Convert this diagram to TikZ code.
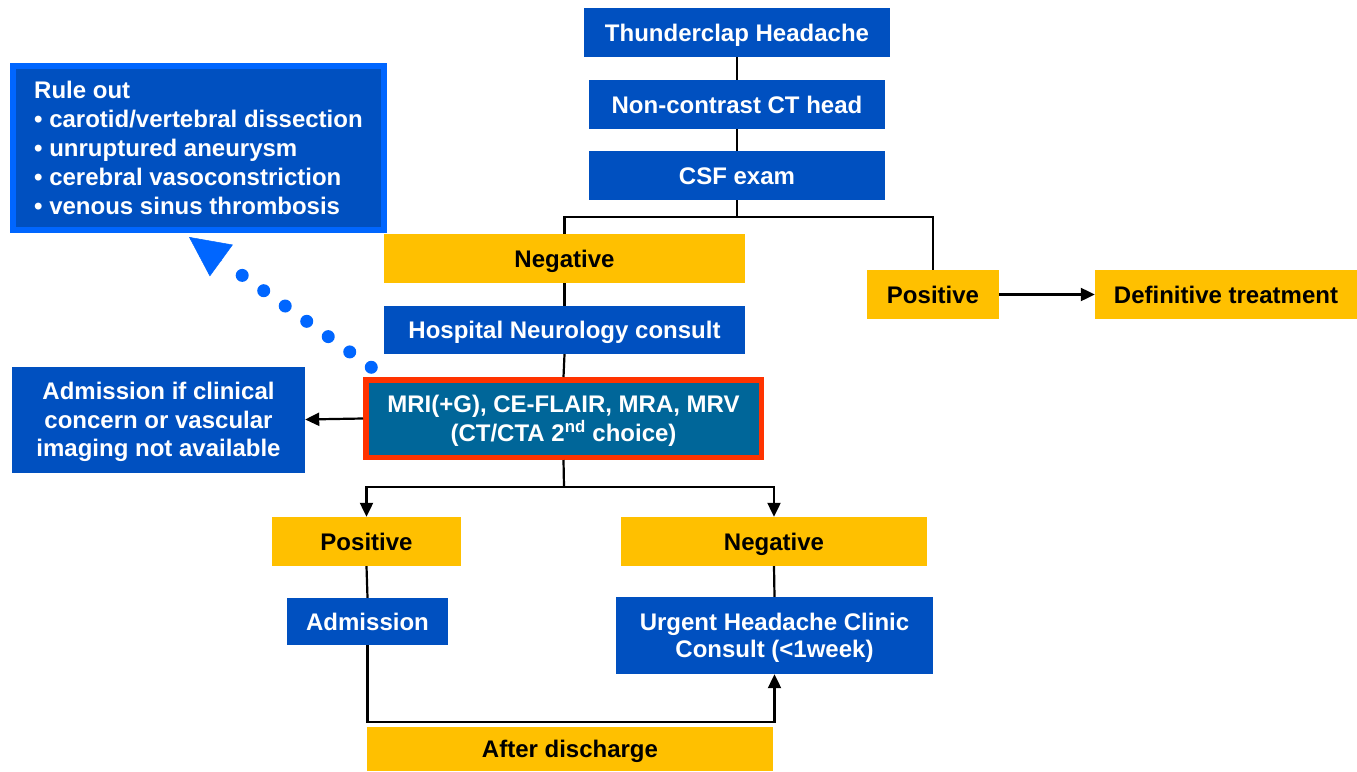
\documentclass[tikz,border=0pt]{standalone}
\usepackage{fontspec}
\setmainfont{Liberation Sans}
\usetikzlibrary{arrows.meta,calc}
\definecolor{boxblue}{RGB}{0,80,192}
\definecolor{boxyellow}{RGB}{255,192,0}
\definecolor{boxteal}{RGB}{0,102,153}
\definecolor{boxred}{RGB}{255,51,0}
\definecolor{lightblue}{RGB}{0,102,255}
\begin{document}
\begin{tikzpicture}[x=1pt,y=-1pt,
  base/.style={rectangle, inner sep=0pt, align=center,
    font=\fontsize{24}{29}\selectfont\bfseries, text height=17.2pt, text depth=0pt},
  bluebox/.style={base, fill=boxblue, text=white},
  yellowbox/.style={base, fill=boxyellow, text=black},
  conn/.style={draw=black, line width=2.2pt},
  arr/.style={conn, -{Triangle[length=14pt,width=13pt]}}
]
\useasboundingbox (0,0) rectangle (1357,771);

\node[bluebox, minimum width=306pt, minimum height=49pt] (th) at (737,32.5) {Thunderclap Headache};
\node[bluebox, minimum width=296pt, minimum height=49pt] (ct) at (737,104.5) {Non-contrast CT head};
\node[bluebox, minimum width=296pt, minimum height=49pt] (csf) at (737,175.5) {CSF exam};
\node[yellowbox, minimum width=361pt, minimum height=49pt] (neg1) at (564.5,258.5) {Negative};
\node[bluebox, minimum width=361pt, minimum height=48pt] (hosp) at (564.5,330) {Hospital Neurology consult};
\node[yellowbox, minimum width=132pt, minimum height=49pt] (pos1) at (933,294.5) {Positive};
\node[yellowbox, minimum width=262pt, minimum height=49pt] (deft) at (1226,294.5) {Definitive treatment};
\node[base, fill=boxteal, text=white, draw=boxred, line width=5.5pt, text height=46.2pt,
      minimum width=395.5pt, minimum height=77.5pt] (mri) at (563.5,418.5)
      {MRI(+G), CE-FLAIR, MRA, MRV\\(CT/CTA 2\textsuperscript{nd} choice)};
\node[bluebox, minimum width=293pt, minimum height=106pt, text height=74.2pt,
      font=\fontsize{24}{28.5}\selectfont\bfseries] (adm1) at (158.5,419.5)
      {Admission if clinical\\concern or vascular\\imaging not available};
\node[base, fill=boxblue, text=white, draw=lightblue, line width=6pt, align=left,
      text height=133.2pt, minimum width=371pt, minimum height=164pt] (rule) at (198.5,148)
      {Rule out\\\textbullet\ carotid/vertebral dissection\\\textbullet\ unruptured aneurysm\\\textbullet\ cerebral vasoconstriction\\\textbullet\ venous sinus thrombosis};
\node[yellowbox, minimum width=189pt, minimum height=49pt] (pos2) at (366.5,541.5) {Positive};
\node[yellowbox, minimum width=306pt, minimum height=49pt] (neg2) at (774,541.5) {Negative};
\node[bluebox, minimum width=161pt, minimum height=47pt] (admb) at (367.5,621.5) {Admission};
\node[bluebox, minimum width=317pt, minimum height=77pt, text height=44.2pt,
      font=\fontsize{24}{27}\selectfont\bfseries] (urg) at (774.5,635.5)
      {Urgent Headache Clinic\\Consult (<1week)};
\node[yellowbox, minimum width=406pt, minimum height=44pt] (after) at (570,749) {After discharge};

\coordinate (split1) at (737,217);
\coordinate (split2) at (564,487);
\coordinate (bottomy) at (0,722);
\coordinate (dstart) at ($(mri.north west)+(8.25,-9.75)$);
\coordinate (dlast) at (222,261);
\coordinate (dtip) at (189,237);

\draw[conn] (th.south) -- (ct.north);
\draw[conn] (ct.south) -- (csf.north);
\draw[conn] (csf.south) -- (split1);
\draw[conn] (split1) -| (neg1.north);
\draw[conn] (split1) -| (pos1.north);
\draw[conn] (neg1.south) -- (hosp.north);
\draw[conn] (hosp.south) -- (mri.north);
\draw[arr] (pos1.east) -- (deft.west);
\draw[arr] (mri.west) -- (adm1.east);
\draw[conn] (mri.south) -- (split2);
\draw[arr] (split2) -| (pos2.north);
\draw[arr] (split2) -| (neg2.north);
\draw[conn] (pos2.south) -- (admb.north);
\draw[conn] (neg2.south) -- (urg.north);
\draw[arr] (admb.south) -- (admb.south |- bottomy) -| (urg.south);

\draw[lightblue, line width=13pt, line cap=round, dash pattern=on 0pt off 26.4pt]
      (dstart) -- (dlast);
\draw[lightblue, line width=0.5pt, -{Triangle[length=40pt,width=39pt]}] (dlast) -- (dtip);
\end{tikzpicture}
\end{document}
